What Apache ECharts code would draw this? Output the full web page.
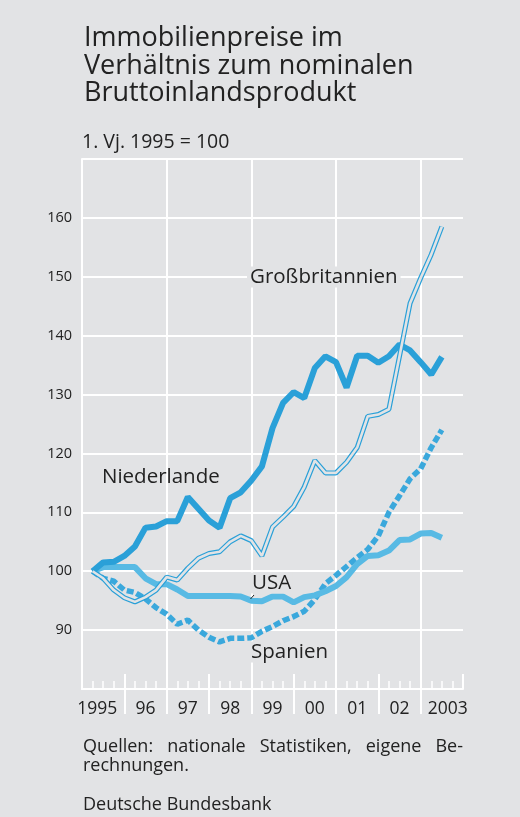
<!DOCTYPE html>
<html>
<head>
<meta charset="utf-8">
<script src="https://cdn.jsdelivr.net/npm/echarts@6/dist/echarts.min.js"></script>
<style>
  html, body { margin: 0; padding: 0; background: #e2e3e5; }
  #chart { width: 520px; height: 817px; }
</style>
</head>
<body>
<div id="chart"></div>
<script>
// Quarterly values, 1995 Q1 = 100, from 1995 Q1 to 2003 Q2
const yearLabels = ['1995', '96', '97', '98', '99', '00', '01', '02', '2003'];
const yTicks = [90, 100, 110, 120, 130, 140, 150, 160];

const niederlande = [100.0, 101.5, 101.6, 102.6, 104.2, 107.4, 107.6, 108.5, 108.5, 112.6,
  110.6, 108.6, 107.4, 112.4, 113.4, 115.4, 117.8, 124.3, 128.6, 130.4,
  129.4, 134.5, 136.5, 135.5, 131.2, 136.6, 136.6, 135.4, 136.5, 138.5,
  137.5, 135.5, 133.4, 136.4];

const usa = [100.0, 100.7, 100.7, 100.7, 100.7, 98.8, 97.8, 97.8, 96.9, 95.8,
  95.8, 95.8, 95.8, 95.8, 95.7, 95.0, 94.9, 95.7, 95.7, 94.7,
  95.6, 95.9, 96.6, 97.5, 99.0, 101.2, 102.6, 102.7, 103.5, 105.3,
  105.4, 106.4, 106.5, 105.7];

const spanien = [100.0, 98.8, 98.3, 96.8, 96.4, 95.3, 93.8, 92.7, 91.0, 91.7,
  90.0, 88.8, 88.0, 88.6, 88.6, 88.7, 89.8, 90.6, 91.6, 92.3,
  93.2, 95.2, 97.9, 99.3, 100.8, 102.3, 103.7, 106.0, 110.0, 112.8,
  115.7, 117.4, 121.0, 124.0];

const grossbritannien = [100.0, 98.8, 96.8, 95.5, 94.8, 95.6, 96.8, 99.0, 98.5, 100.5,
  102.2, 103.0, 103.3, 105.0, 106.0, 105.2, 102.6, 107.5, 109.2, 111.0,
  114.3, 118.8, 116.7, 116.7, 118.5, 121.0, 126.3, 126.6, 127.5, 136.5,
  145.5, 149.8, 153.8, 158.5];

const BG = '#e2e3e5';
const TXT = '#222222';
const FONT = '"Open Sans", "Noto Sans", sans-serif';

const toXY = arr => arr.map((v, i) => [i + 1, v]);

const chart = echarts.init(document.getElementById('chart'), null, { renderer: 'canvas' });

const option = {
  backgroundColor: BG,
  animation: false,
  textStyle: { fontFamily: FONT, color: TXT },
  title: [
    {
      text: 'Immobilienpreise im\nVerhältnis zum nominalen\nBruttoinlandsprodukt',
      left: 84, top: 25, padding: 0,
      textStyle: { fontFamily: FONT, fontSize: 27, fontWeight: 'normal', color: TXT, lineHeight: 27.5 }
    },
    {
      text: '1. Vj. 1995 = 100',
      left: 82, top: 131, padding: 0,
      textStyle: { fontFamily: FONT, fontSize: 19.5, fontWeight: 'normal', color: TXT, lineHeight: 22 }
    },
    {
      text: 'Quellen:   nationale   Statistiken,   eigene   Be-\nrechnungen.',
      left: 83, top: 737, padding: 0,
      textStyle: { fontFamily: FONT, fontSize: 18, fontWeight: 'normal', color: TXT, lineHeight: 19.5 }
    },
    {
      text: 'Deutsche Bundesbank',
      left: 83, top: 795, padding: 0,
      textStyle: { fontFamily: FONT, fontSize: 18, fontWeight: 'normal', color: TXT, lineHeight: 20 }
    }
  ],
  grid: { left: 82, top: 159, width: 381, height: 530, containLabel: false },
  xAxis: [
    {
      type: 'value', min: 0, max: 36, interval: 4,
      position: 'bottom',
      axisLine: { show: true, lineStyle: { color: '#ffffff', width: 2 } },
      axisTick: { show: true, inside: true, length: 15, lineStyle: { color: '#ffffff', width: 2 } },
      minorTick: { show: true, splitNumber: 4, length: 8, lineStyle: { color: '#ffffff', width: 1.5 } },
      axisLabel: { show: false },
      splitLine: { show: true, lineStyle: { color: ['#ffffff', 'rgba(0,0,0,0)'], width: 2 } }
    },
    {
      type: 'value', min: 0, max: 36,
      position: 'bottom',
      axisLine: { show: false },
      axisTick: {
        show: true, inside: false, length: 25,
        customValues: [4, 8, 12, 16, 20, 24, 28, 32],
        lineStyle: { color: '#ffffff', width: 2 }
      },
      axisLabel: {
        show: true, margin: 11,
        customValues: [2, 6, 10, 14, 18, 22, 26, 30, 34],
        formatter: v => {
          const idx = Math.round((v - 2) / 4);
          const t = yearLabels[idx];
          if (idx === 0) return '{first|' + t + '}';
          if (idx === yearLabels.length - 1) return '{last|' + t + '}';
          return t;
        },
        fontFamily: FONT, fontSize: 17.5, color: TXT,
        rich: {
          first: { fontFamily: FONT, fontSize: 17.5, color: TXT, padding: [0, 12, 0, 0] },
          last: { fontFamily: FONT, fontSize: 17.5, color: TXT, padding: [0, 0, 0, 12] }
        }
      },
      splitLine: { show: false }
    }
  ],
  yAxis: {
    type: 'value', min: 80, max: 170, interval: 10,
    axisLine: { show: true, lineStyle: { color: '#ffffff', width: 2 } },
    axisTick: { show: false },
    axisLabel: {
      margin: 10, fontFamily: FONT, fontSize: 14.5, color: TXT,
      formatter: v => (yTicks.indexOf(v) >= 0 ? String(v) : '')
    },
    splitLine: { show: true, lineStyle: { color: '#ffffff', width: 2 } }
  },
  series: [
    {
      name: 'Spanien', type: 'line', data: toXY(spanien), symbol: 'none',
      lineStyle: { color: '#3aa8dc', width: 5.5, type: [7, 3] }
    },
    {
      name: 'USA', type: 'line', data: toXY(usa), symbol: 'none',
      lineStyle: { color: '#58bae4', width: 6 }
    },
    {
      name: 'Niederlande', type: 'line', data: toXY(niederlande), symbol: 'none',
      lineStyle: { color: '#2aa0d8', width: 6 }
    },
    {
      name: 'Großbritannien', type: 'line', data: toXY(grossbritannien), symbol: 'none',
      lineStyle: { color: '#2aa0d8', width: 5 }
    },
    {
      name: 'Großbritannien (innen)', type: 'line', data: toXY(grossbritannien), symbol: 'none',
      lineStyle: { color: BG, width: 2.6 }
    }
  ],
  graphic: [
    { type: 'text', x: 247, y: 277, z: 100,
      style: { text: 'Großbritannien', font: '20.5px ' + FONT, fill: TXT, verticalAlign: 'middle',
               backgroundColor: BG, padding: [0, 3, 0, 3] } },
    { type: 'text', x: 102, y: 477, z: 100,
      style: { text: 'Niederlande', font: '20.5px ' + FONT, fill: TXT, verticalAlign: 'middle' } },
    { type: 'text', x: 251, y: 583, z: 100,
      style: { text: 'USA', font: '20.5px ' + FONT, fill: TXT, verticalAlign: 'middle',
               backgroundColor: BG, padding: [0, 1, 0, 1] } },
    { type: 'line', z: 100,
      shape: { x1: 254, y1: 595, x2: 250.5, y2: 599 },
      style: { stroke: TXT, lineWidth: 1 } },
    { type: 'text', x: 250, y: 652, z: 100,
      style: { text: 'Spanien', font: '20.5px ' + FONT, fill: TXT, verticalAlign: 'middle',
               backgroundColor: BG, padding: [0, 1, 0, 1] } }
  ]
};

chart.setOption(option);
</script>
</body>
</html>
